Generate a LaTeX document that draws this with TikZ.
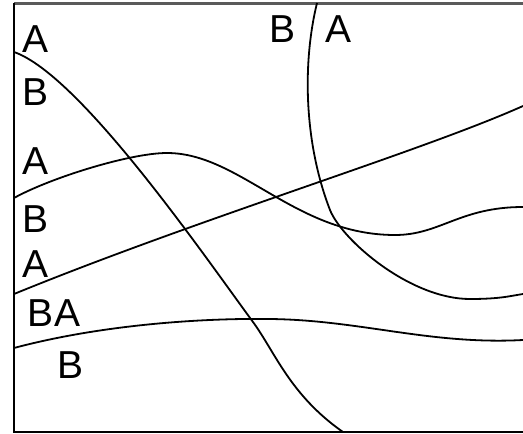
\documentclass[tikz,border=0pt]{standalone}
\usepackage{fontspec}
\setmainfont{Liberation Sans}
\usepackage{xcolor}
\usepackage{tikz}
\usetikzlibrary{positioning}
\definecolor{framegray}{RGB}{90,90,90}

\begin{document}
\begin{tikzpicture}[
    x=1pt, y=-1pt,
    lbl/.style={inner sep=0pt, font=\fontsize{39}{42}\selectfont},
    border/.style={draw, line width=2pt},
    curve/.style={draw, line width=1.8pt, line join=round}
]
    \useasboundingbox (0,0) rectangle (523,434);

    % Frame
    \draw[border, framegray, line width=3pt] (14,3) -- (523,3);
    \draw[border] (14,3) -- (14,432) -- (523,432);

    % Curves
    \draw[curve] (14,52) .. controls (80,75) and (203,254) .. (253,322)
                         .. controls (275,352) and (290,395) .. (343,432);
    \draw[curve] (14,198) .. controls (50,178) and (130,153) .. (167,153)
                          .. controls (240,153) and (295,235) .. (395,235)
                          .. controls (440,235) and (460,207) .. (523,207);
    \draw[curve] (14,294) .. controls (200,218) and (420,152) .. (523,106);
    \draw[curve] (317,3) .. controls (303,60) and (303,140) .. (330,210)
                         .. controls (342,240) and (410,299) .. (470,299)
                         .. controls (500,299) and (510,296) .. (523,294);
    \draw[curve] (14,348) .. controls (100,325) and (200,318) .. (270,319)
                          .. controls (360,320) and (430,345) .. (523,340);

    % Nodes
    \node[lbl] (a1) at (36,39) {A};
    \node[lbl] (b1) at (36,92) {B};
    \node[lbl] (a2) at (36,161) {A};
    \node[lbl] (b2) at (36,219) {B};
    \node[lbl] (a3) at (36,264) {A};
    \node[lbl] (ba) at (54,313) {BA};
    \node[lbl] (b3) at (71,365) {B};
    \node[lbl] (btop) at (283,29) {B};
    \node[lbl] (atop) at (339,29) {A};
\end{tikzpicture}
\end{document}
